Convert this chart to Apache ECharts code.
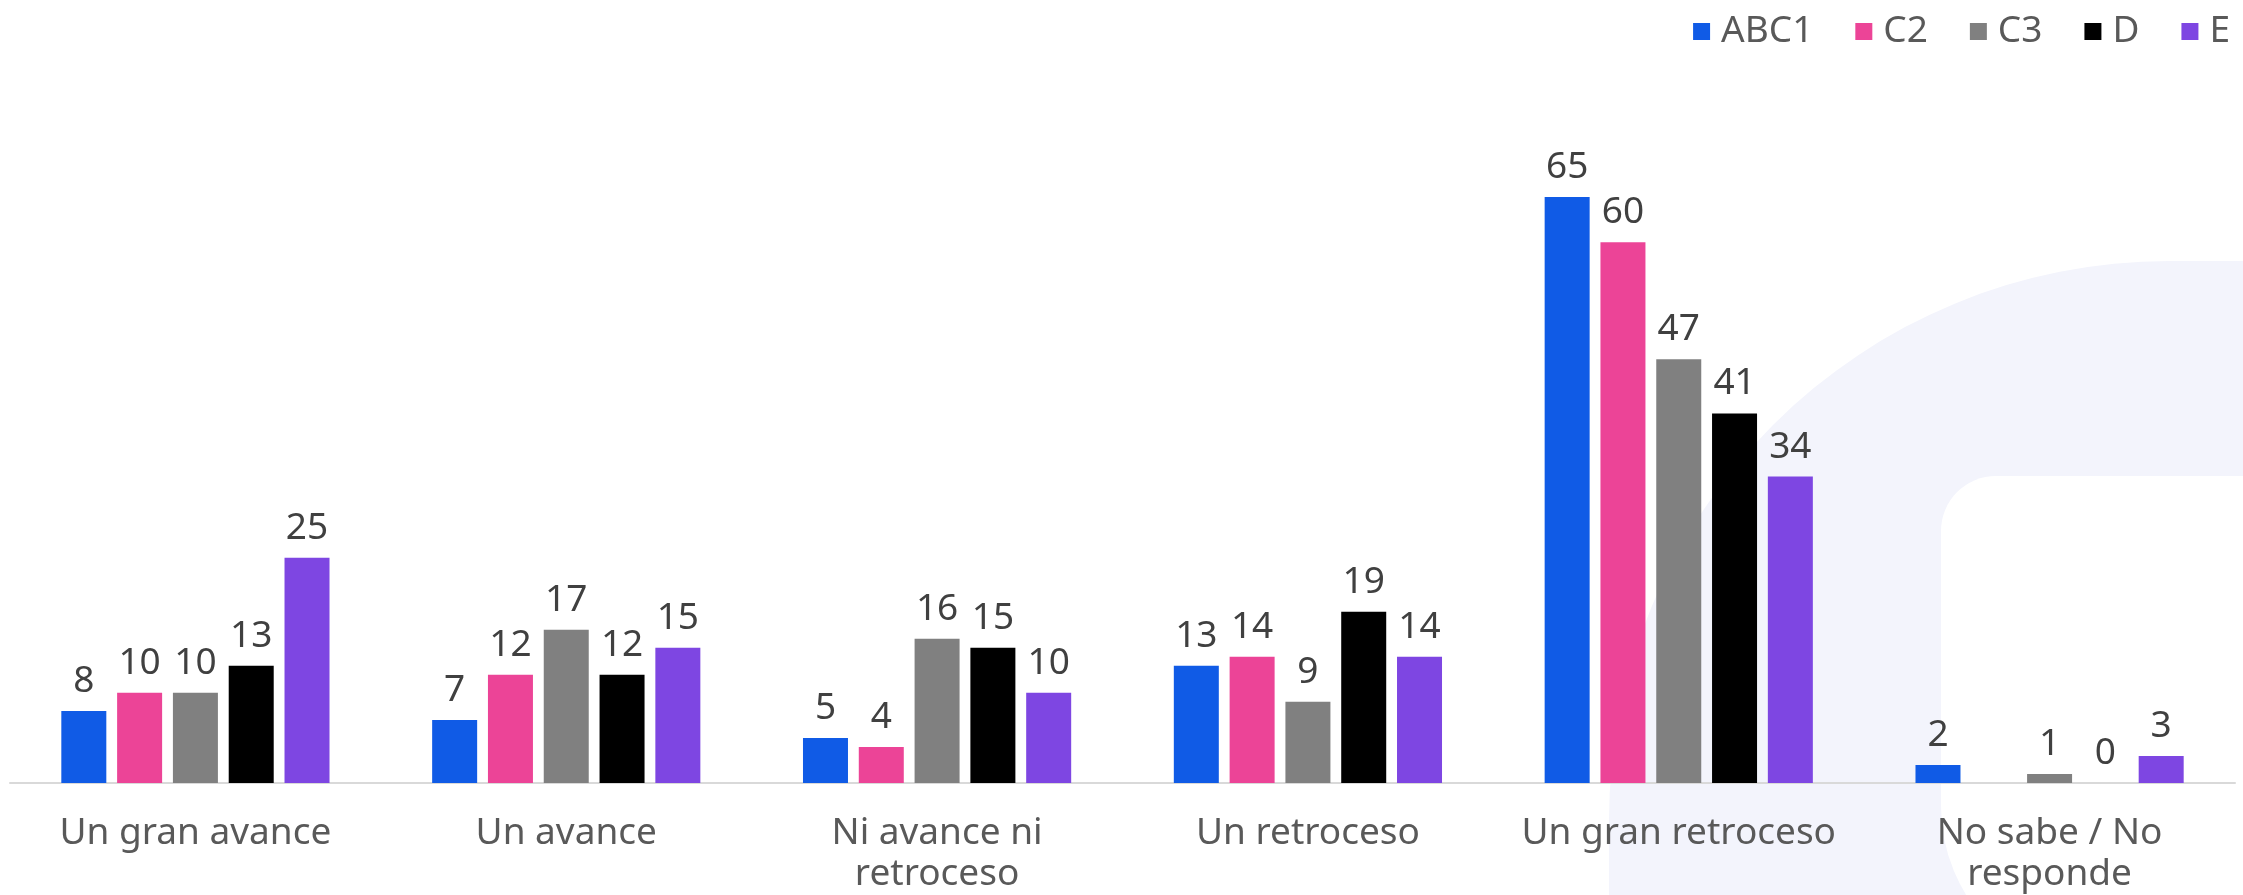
<!DOCTYPE html>
<html>
<head>
<meta charset="utf-8">
<script src="https://cdn.jsdelivr.net/npm/echarts@6/dist/echarts.min.js"></script>
<style>
  html, body { margin: 0; padding: 0; background: #fff; }
  #chart { width: 2243px; height: 895px; }
</style>
</head>
<body>
<div id="chart"></div>
<script>
  // categorias del eje x
  const categorias = ['Un gran avance', 'Un avance', 'Ni avance ni\nretroceso', 'Un retroceso', 'Un gran retroceso', 'No sabe / No\nresponde']

  // valores por grupo socioeconomico
  const abc1 = [8, 7, 5, 13, 65, 2]
  const c2 = [10, 12, 4, 14, 60, null]
  const c3 = [10, 17, 16, 9, 47, 1]
  const d = [13, 12, 15, 19, 41, 0]
  const e = [25, 15, 10, 14, 34, 3]

  const nombres = ['ABC1', 'C2', 'C3', 'D', 'E']
  const colores = ['#105BE6', '#EC4497', '#808080', '#000000', '#7E46E2']

  const fuente = '"Noto Sans", sans-serif'

  let chart = echarts.init(document.getElementById('chart'))

  let series = [abc1, c2, c3, d, e].map(function (valores, i) {
    return {
      name: nombres[i],
      type: 'bar',
      data: valores,
      barWidth: 45,
      barGap: '24%',
      itemStyle: { color: colores[i] },
      label: {
        show: true,
        position: 'top',
        distance: 11,
        fontSize: 37,
        fontFamily: fuente,
        color: '#404040'
      }
    }
  })

  chart.setOption({
    backgroundColor: '#ffffff',
    animation: false,
    // forma decorativa del fondo
    graphic: [
      {
        type: 'rect',
        z: -10,
        silent: true,
        shape: { x: 1609, y: 261, width: 900, height: 900, r: [560, 0, 0, 0] },
        style: { fill: '#F3F4FC' }
      },
      {
        type: 'rect',
        z: -9,
        silent: true,
        shape: { x: 1941, y: 476, width: 600, height: 500, r: [55, 0, 0, 170] },
        style: { fill: '#ffffff' }
      }
    ],
    legend: {
      data: nombres,
      top: 8,
      right: 8,
      icon: 'rect',
      itemWidth: 17,
      itemHeight: 17,
      itemGap: 42,
      textStyle: {
        fontSize: 37,
        fontFamily: fuente,
        color: '#595959',
        padding: [0, 0, 0, 6]
      }
    },
    grid: {
      left: 10,
      right: 8,
      top: 152,
      bottom: 107,
      containLabel: false
    },
    xAxis: {
      type: 'category',
      data: categorias,
      axisTick: { show: false },
      axisLine: { lineStyle: { color: '#D9D9D9', width: 2 } },
      axisLabel: {
        interval: 0,
        margin: 30,
        fontSize: 37,
        lineHeight: 41,
        fontFamily: fuente,
        color: '#595959'
      }
    },
    yAxis: {
      type: 'value',
      min: 0,
      max: 70,
      show: false,
      splitLine: { show: false }
    },
    series: series
  })
</script>
</body>
</html>
